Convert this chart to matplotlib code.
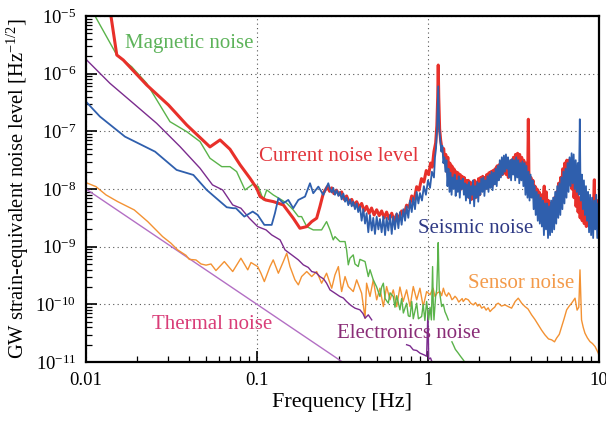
import numpy as np
import matplotlib
matplotlib.use('Agg')
import matplotlib.pyplot as plt
from matplotlib.ticker import FuncFormatter, LogLocator, NullFormatter

plt.rcParams['font.family'] = ['Liberation Serif', 'DejaVu Serif']
plt.rcParams['mathtext.fontset'] = 'custom'
plt.rcParams['mathtext.rm'] = 'Liberation Serif'
plt.rcParams['mathtext.it'] = 'Liberation Serif:italic'

# all curves: log10(frequency [Hz]) and log10(strain noise [Hz^-1/2])
red_lf = [-1.87, -1.854, -1.820, -1.782, -1.645, -1.518, -1.411, -1.275, -1.216, -1.158, -1.099, -1.041,
          -1.002, -0.982, -0.950, -0.905, -0.846, -0.788, -0.749, -0.709, -0.680, -0.651, -0.632, -0.612,
          -0.589, -0.575, -0.563, -0.550, -0.535, -0.520, -0.505, -0.490, -0.476, -0.460, -0.446, -0.432,
          -0.417, -0.402, -0.388, -0.373, -0.359, -0.344, -0.330, -0.315, -0.300, -0.285, -0.271, -0.256,
          -0.242, -0.227, -0.212, -0.198, -0.183, -0.168, -0.154, -0.140, -0.125, -0.110, -0.095, -0.080,
          -0.066, -0.052, -0.038, -0.024, -0.010, 0.004, 0.015, 0.025, 0.035, 0.045, 0.052, 0.057, 0.060,
          0.063, 0.068, 0.074, 0.080, 0.086, 0.092, 0.098, 0.104, 0.110, 0.116, 0.122, 0.128, 0.134,
          0.140, 0.146, 0.152, 0.158, 0.164, 0.170, 0.176, 0.182, 0.188, 0.194, 0.200, 0.206, 0.212,
          0.218, 0.224, 0.230, 0.236, 0.242, 0.248, 0.254, 0.260, 0.266, 0.272, 0.278, 0.284, 0.290,
          0.296, 0.302, 0.308, 0.314, 0.320, 0.326, 0.332, 0.338, 0.344, 0.350, 0.356, 0.362, 0.368,
          0.374, 0.380, 0.386, 0.392, 0.398, 0.404, 0.410, 0.416, 0.422, 0.428, 0.434, 0.440, 0.446,
          0.452, 0.458, 0.464, 0.470, 0.476, 0.482, 0.488, 0.494, 0.500, 0.506, 0.512, 0.518, 0.524,
          0.530, 0.536, 0.542, 0.548, 0.554, 0.560, 0.566, 0.572, 0.578, 0.584, 0.587, 0.590, 0.596,
          0.602, 0.608, 0.614, 0.620, 0.626, 0.632, 0.638, 0.644, 0.650, 0.656, 0.662, 0.668, 0.674,
          0.680, 0.686, 0.692, 0.698, 0.704, 0.710, 0.716, 0.722, 0.728, 0.734, 0.740, 0.746, 0.752,
          0.758, 0.764, 0.770, 0.776, 0.782, 0.788, 0.794, 0.800, 0.806, 0.812, 0.818, 0.824, 0.830,
          0.836, 0.842, 0.848, 0.854, 0.860, 0.866, 0.872, 0.878, 0.884, 0.890, 0.896, 0.902, 0.908,
          0.914, 0.920, 0.926, 0.932, 0.938, 0.944, 0.950, 0.956, 0.962, 0.968, 0.973, 0.976, 0.982,
          0.988, 0.994, 1.000, 1.006]
red_lv = [-4.70, -5.00, -5.676, -5.763, -6.196, -6.542, -6.889, -7.270, -7.149, -7.310, -7.58, -7.813,
          -7.986, -8.13, -8.19, -8.218, -8.276, -8.506, -8.680, -8.652, -8.565, -8.506, -8.305, -8.073,
          -7.96, -8.04, -7.98, -8.08, -8.02, -8.10, -8.05, -8.18, -8.12, -8.24, -8.18, -8.28,
          -8.22, -8.32, -8.25, -8.38, -8.30, -8.42, -8.33, -8.45, -8.36, -8.46, -8.38, -8.50,
          -8.40, -8.52, -8.42, -8.55, -8.44, -8.52, -8.38, -8.45, -8.28, -8.32, -8.12, -8.18,
          -7.96, -8.02, -7.82, -7.88, -7.68, -7.75, -7.55, -7.62, -7.35, -7.20, -6.90, -6.40, -5.85,
          -6.40, -6.95, -7.15, -7.27, -7.35, -7.30, -7.55, -7.40, -7.70, -7.45, -7.80, -7.55, -7.85,
          -7.60, -7.90, -7.65, -7.95, -7.70, -7.90, -7.72, -7.98, -7.75, -8.00, -7.78, -7.95, -7.80,
          -8.05, -7.85, -8.10, -7.85, -8.15, -7.88, -8.18, -7.90, -8.10, -7.85, -8.15, -7.88, -8.05,
          -7.82, -8.10, -7.80, -8.00, -7.78, -8.02, -7.80, -7.95, -7.75, -7.98, -7.72, -7.92, -7.70,
          -7.95, -7.68, -7.88, -7.65, -7.85, -7.60, -7.80, -7.58, -7.78, -7.55, -7.75, -7.52, -7.72,
          -7.50, -7.75, -7.55, -7.80, -7.55, -7.75, -7.50, -7.70, -7.45, -7.65, -7.40, -7.60, -7.38,
          -7.55, -7.40, -7.62, -7.45, -7.70, -7.50, -7.75, -7.55, -7.85, -7.60, -6.79, -7.70, -7.95,
          -7.80, -8.05, -7.85, -8.15, -7.95, -8.25, -8.00, -8.30, -8.05, -8.35, -8.10, -8.40, -8.15,
          -7.95, -8.40, -8.05, -8.45, -8.20, -8.50, -8.25, -8.48, -8.22, -8.45, -8.15, -8.40, -8.05,
          -8.25, -7.90, -8.15, -7.80, -8.00, -7.65, -7.90, -7.55, -7.80, -7.50, -7.70, -7.50, -7.85,
          -7.65, -8.00, -7.80, -8.15, -7.95, -8.30, -8.05, -8.40, -8.15, -8.50, -8.20, -8.55, -8.25,
          -8.60, -8.30, -8.65, -8.35, -8.60, -8.30, -8.65, -8.35, -8.60, -8.30, -7.84, -8.55, -8.25,
          -8.50, -8.20, -8.45, -8.30]

blue_lf = [-2.0, -1.918, -1.772, -1.596, -1.470, -1.372, -1.294, -1.177, -1.139, -1.123, -1.074, -1.025,
           -0.996, -0.957, -0.914, -0.895, -0.875, -0.846, -0.817, -0.788, -0.758, -0.719, -0.690, -0.671,
           -0.641, -0.612, -0.583, -0.573, -0.563, -0.554, -0.544, -0.534, -0.524, -0.515, -0.505, -0.495,
           -0.485, -0.476, -0.466, -0.456, -0.446, -0.437, -0.427, -0.417, -0.408, -0.398, -0.388, -0.378,
           -0.368, -0.359, -0.349, -0.339, -0.329, -0.320, -0.310, -0.300, -0.290, -0.281, -0.271, -0.261,
           -0.251, -0.242, -0.232, -0.222, -0.212, -0.203, -0.193, -0.183, -0.173, -0.164, -0.154, -0.144,
           -0.134, -0.125, -0.115, -0.105, -0.095, -0.086, -0.076, -0.066, -0.056, -0.047, -0.035, -0.024,
           -0.012, 0.000, 0.012, 0.023, 0.035, 0.041, 0.047, 0.053, 0.060, 0.066, 0.072, 0.078, 0.084,
           0.090, 0.096, 0.102, 0.108, 0.114, 0.120, 0.126, 0.132, 0.138, 0.144, 0.150, 0.156, 0.162,
           0.168, 0.174, 0.180, 0.186, 0.192, 0.198, 0.204, 0.210, 0.216, 0.222, 0.228, 0.234, 0.240,
           0.246, 0.252, 0.258, 0.264, 0.270, 0.276, 0.282, 0.288, 0.294, 0.300, 0.306, 0.312, 0.318,
           0.324, 0.330, 0.336, 0.342, 0.348, 0.354, 0.360, 0.366, 0.372, 0.378, 0.384, 0.390, 0.396,
           0.402, 0.408, 0.414, 0.420, 0.426, 0.432, 0.438, 0.444, 0.450, 0.456, 0.462, 0.468, 0.474,
           0.480, 0.486, 0.492, 0.498, 0.504, 0.510, 0.516, 0.522, 0.528, 0.534, 0.540, 0.546, 0.552,
           0.558, 0.564, 0.570, 0.576, 0.582, 0.588, 0.594, 0.600, 0.606, 0.612, 0.618, 0.624, 0.630,
           0.636, 0.642, 0.648, 0.654, 0.660, 0.666, 0.672, 0.678, 0.684, 0.690, 0.696, 0.702, 0.708,
           0.714, 0.720, 0.726, 0.732, 0.738, 0.744, 0.750, 0.756, 0.762, 0.768, 0.774, 0.780, 0.786,
           0.792, 0.798, 0.804, 0.810, 0.816, 0.822, 0.828, 0.834, 0.840, 0.846, 0.852, 0.858, 0.864,
           0.870, 0.876, 0.882, 0.888, 0.891, 0.894, 0.900, 0.906, 0.912, 0.918, 0.924, 0.930, 0.936,
           0.942, 0.948, 0.954, 0.960, 0.966, 0.972, 0.978, 0.984, 0.990, 0.996, 1.002]
blue_lv = [-6.485, -6.745, -7.092, -7.352, -7.669, -7.756, -8.016, -8.316, -8.333, -8.333, -8.478, -8.391,
           -8.449, -8.622, -8.622, -8.420, -8.160, -8.246, -8.189, -8.333, -8.189, -8.131, -7.900, -8.073,
           -7.958, -8.102, -7.900, -8.00, -8.06, -7.98, -8.10, -8.02, -8.12, -8.05, -8.18, -8.08,
           -8.22, -8.15, -8.28, -8.18, -8.30, -8.22, -8.35, -8.25, -8.40, -8.30, -8.55, -8.35,
           -8.60, -8.42, -8.75, -8.45, -8.72, -8.50, -8.78, -8.48, -8.70, -8.52, -8.75, -8.48,
           -8.80, -8.50, -8.72, -8.45, -8.78, -8.48, -8.70, -8.42, -8.68, -8.40, -8.62, -8.35,
           -8.55, -8.30, -8.50, -8.20, -8.40, -8.15, -8.35, -8.05, -8.25, -8.07, -8.20, -7.95,
           -8.10, -7.85, -7.98, -7.70, -7.80, -7.45, -7.30, -6.95, -6.22, -6.95, -7.15, -7.35, -7.25,
           -7.55, -7.45, -7.70, -7.50, -7.95, -7.65, -8.05, -7.72, -8.10, -7.80, -8.00, -7.75, -8.12,
           -7.85, -8.05, -7.78, -8.15, -7.85, -8.00, -7.82, -8.10, -7.90, -8.20, -7.92, -8.15, -7.88,
           -8.25, -7.95, -8.10, -7.85, -8.30, -7.95, -8.15, -7.88, -8.22, -7.90, -8.10, -7.82, -8.05,
           -7.80, -8.12, -7.85, -8.00, -7.78, -8.05, -7.75, -7.98, -7.70, -8.02, -7.72, -7.92, -7.65,
           -7.95, -7.60, -7.85, -7.50, -7.80, -7.45, -7.75, -7.42, -7.70, -7.40, -7.65, -7.45, -7.80,
           -7.50, -7.85, -7.48, -7.75, -7.50, -7.85, -7.45, -7.80, -7.50, -7.90, -7.55, -7.85, -7.52,
           -7.95, -7.55, -8.10, -7.60, -8.15, -7.70, -8.20, -7.75, -8.15, -7.85, -8.35, -7.95, -8.45,
           -8.05, -8.55, -8.10, -8.60, -8.15, -8.65, -8.20, -8.80, -8.25, -8.70, -8.25, -8.85, -8.30,
           -8.80, -8.20, -8.75, -8.15, -8.70, -8.05, -8.60, -7.95, -8.50, -7.90, -8.45, -7.80, -8.35,
           -7.70, -8.25, -7.65, -8.15, -7.55, -8.05, -7.45, -7.95, -7.38, -7.90, -7.40, -8.00, -7.50,
           -8.05, -7.55, -8.10, -6.79, -7.70, -8.20, -7.75, -8.35, -7.85, -8.45, -7.95, -8.55, -8.05,
           -8.75, -8.10, -8.80, -8.15, -8.85, -8.20, -8.70, -8.10, -8.85, -8.25, -8.80]

green_lf = [-1.96, -1.947, -1.820, -1.733, -1.645, -1.509, -1.411, -1.333, -1.275, -1.206, -1.158, -1.119,
            -1.070, -1.022, -0.992, -0.963, -0.943, -0.905, -0.856, -0.826, -0.788, -0.758, -0.739, -0.709,
            -0.671, -0.622, -0.593, -0.573, -0.554, -0.544, -0.515, -0.485, -0.476, -0.466, -0.456, -0.437,
            -0.427, -0.408, -0.398, -0.368, -0.349, -0.339, -0.320, -0.300, -0.281, -0.271, -0.261, -0.251,
            -0.232, -0.222, -0.203, -0.193, -0.183, -0.164, -0.154, -0.144, -0.125, -0.115, -0.105, -0.095,
            -0.086, -0.066, -0.056, -0.037, -0.028, -0.018, -0.008, 0.004, 0.012, 0.020, 0.027, 0.031,
            0.035, 0.045, 0.051, 0.056, 0.060, 0.063, 0.066, 0.080, 0.090, 0.099, 0.110, 0.119, 0.130,
            0.140, 0.148, 0.160, 0.177, 0.190, 0.206, 0.226]
green_lv = [-4.80, -5.00, -5.676, -5.879, -6.167, -6.832, -7.005, -7.178, -7.466, -7.612, -7.612, -7.698,
            -8.016, -7.912, -7.958, -8.189, -8.016, -8.102, -8.189, -8.246, -8.362, -8.478, -8.478, -8.652,
            -8.709, -8.709, -8.565, -8.709, -8.882, -8.825, -8.911, -8.911, -9.056, -9.315, -9.20, -9.142,
            -9.30, -9.344, -9.22, -9.258, -9.518, -9.40, -9.575, -9.70, -9.864, -9.70, -9.633, -9.90,
            -9.980, -9.80, -9.864, -10.05, -9.85, -10.095, -9.90, -10.15, -9.980, -10.20, -10.211, -9.95,
            -10.25, -9.980, -10.25, -10.211, -10.00, -10.28, -9.95, -10.27, -10.05, -10.27, -9.345, -10.00,
            -10.27, -9.85, -9.749, -9.30, -8.929, -9.40, -9.749, -10.038, -10.00, -10.125, -10.20, -10.27, np.nan,
            -10.65, -10.70, -10.78, -10.846, -10.90, -10.962, -11.05]

purple_lf = [-2.0, -1.860, -1.723, -1.587, -1.450, -1.333, -1.260, -1.201, -1.142, -1.094, -1.045, -0.996,
             -0.947, -0.914, -0.865, -0.836, -0.797, -0.758, -0.729, -0.700, -0.680, -0.655, -0.632, -0.610,
             -0.593, -0.573, -0.544, -0.515, -0.495, -0.476, -0.450, -0.427, -0.398, -0.380, -0.368, -0.349,
             -0.329, -0.320, -0.125, -0.105, -0.086, -0.066, -0.047, -0.020, -0.008, 0.000, 0.004, 0.015, 0.030]
purple_lv = [-5.751, -6.167, -6.514, -6.860, -7.265, -7.640, -7.929, -8.016, -8.276, -8.333, -8.506, -8.652,
             -8.709, -8.796, -8.882, -9.056, -9.142, -9.229, -9.315, -9.36, -9.431, -9.45, -9.518, -9.56,
             -9.633, -9.749, -9.806, -9.864, -9.89, -9.951, -10.02, -10.066, -10.095, -10.16, -10.240, -10.182,
             -10.269, np.nan, -10.70, -10.72, -10.789, -10.80, -10.846, -10.88, -10.90, -10.10, -10.95, -10.93, -11.05]

orange_lf = [-2.0, -1.942, -1.883, -1.815, -1.718, -1.639, -1.552, -1.503, -1.464, -1.415, -1.396, -1.357,
             -1.327, -1.298, -1.269, -1.240, -1.191, -1.142, -1.094, -1.054, -1.035, -0.996, -0.977, -0.957,
             -0.924, -0.905, -0.875, -0.846, -0.826, -0.807, -0.778, -0.758, -0.739, -0.709, -0.680, -0.651,
             -0.622, -0.593, -0.563, -0.544, -0.524, -0.505, -0.485, -0.466, -0.437, -0.417, -0.388, -0.368,
             -0.359, -0.339, -0.320, -0.300, -0.281, -0.261, -0.242, -0.222, -0.203, -0.183, -0.164, -0.145,
             -0.125, -0.105, -0.086, -0.066, -0.047, -0.028, -0.008, 0.012, 0.030, 0.041, 0.055, 0.070,
             0.080, 0.090, 0.100, 0.110, 0.120, 0.129, 0.140, 0.148, 0.158, 0.168, 0.180, 0.190, 0.200,
             0.206, 0.220, 0.236, 0.250, 0.265, 0.278, 0.290, 0.302, 0.314, 0.328, 0.340, 0.352, 0.363,
             0.377, 0.390, 0.400, 0.411, 0.430, 0.450, 0.470, 0.489, 0.510, 0.528, 0.548, 0.567, 0.585,
             0.606, 0.625, 0.645, 0.665, 0.684, 0.705, 0.723, 0.740, 0.752, 0.768, 0.782, 0.796, 0.811,
             0.826, 0.840, 0.860, 0.872, 0.882, 0.889, 0.898, 0.908, 0.918, 0.932, 0.947, 0.962, 0.977,
             0.996, 1.005]
orange_lv = [-7.889, -7.958, -8.102, -8.218, -8.362, -8.565, -8.825, -8.940, -9.056, -9.15, -9.22, -9.23,
             -9.30, -9.32, -9.30, -9.414, -9.258, -9.431, -9.200, -9.402, -9.275, -9.345, -9.460, -9.605,
             -9.345, -9.229, -9.460, -9.258, -9.113, -9.345, -9.575, -9.662, -9.518, -9.431, -9.518, -9.431,
             -9.633, -9.460, -9.720, -9.489, -9.345, -9.778, -9.518, -9.691, -9.778, -9.575, -9.806, -10.240,
             -9.633, -9.864, -9.575, -9.922, -9.72, -10.038, -9.691, -9.92, -9.749, -10.04, -9.70, -9.951,
             -9.749, -10.038, -9.691, -9.922, -9.720, -10.038, -9.778, -9.835, -9.72, -9.864, -9.80, -9.778,
             -9.85, -9.72, -9.82, -9.86, -9.80, -9.835, -9.92, -9.90, -9.86, -9.893, -9.96, -9.93, -9.90,
             -9.951, -9.90, -9.922, -9.98, -10.009, -9.97, -10.03, -10.00, -10.066, -10.04, -10.10, -10.06, -10.125,
             -10.08, -10.05, -10.00, -9.980, -10.03, -10.009, -10.04, -10.066, -9.95, -9.893, -9.98, -10.038, -10.08,
             -10.182, -10.26, -10.355, -10.45, -10.529, -10.60, -10.615, -10.65, -10.586, -10.52, -10.385, -10.25, -10.095,
             -10.03, -9.980, -9.893, -10.10, -10.05, -9.402, -10.269, -10.40, -10.500, -10.58, -10.645, -10.68, -10.731,
             -10.846, -10.95]

thermal_f = [0.01, 0.1, 1.0]
thermal_h = [1e-8, 1e-10, 1e-12]

labels = {
    'Magnetic noise': (-1.772, -5.555, '#5db35a'),
    'Current noise level': (-0.988, -7.513, '#e2363c'),
    'Seismic noise': (-0.058, -8.766, '#2f3a85'),
    'Sensor noise': (0.234, -9.719, '#f39a4a'),
    'Thermal noise': (-1.614, -10.425, '#d93d78'),
    'Electronics noise': (-0.532, -10.586, '#8a2d77'),
}


def from_log(a):
    return 10 ** np.array(a, dtype=float)


fig = plt.figure(figsize=(6.06, 4.26), dpi=100)
ax = fig.add_axes([0.1419, 0.1502, 0.8465, 0.8122])

ax.plot(thermal_f, thermal_h, color='#b36fc4', lw=1.0)
ax.plot(from_log(orange_lf), from_log(orange_lv), color='#f39233', lw=1.0)
ax.plot(from_log(purple_lf), from_log(purple_lv), color='#7b2c8e', lw=1.0)
ax.plot(from_log(green_lf), from_log(green_lv), color='#5ab34a', lw=1.0)
ax.plot(from_log(red_lf), from_log(red_lv), color='#e8302a', lw=2.2)
ax.plot(from_log(blue_lf), from_log(blue_lv), color='#2f5fad', lw=1.3)

for txt, (lf, lv, c) in labels.items():
    ax.text(10 ** lf, 10 ** lv, txt, color=c, fontsize=15, ha='left', va='baseline')

ax.set_xscale('log')
ax.set_yscale('log')
ax.set_xlim(0.01, 10)
ax.set_ylim(1e-11, 1e-5)

ax.xaxis.set_major_locator(LogLocator(base=10, numticks=10))
ax.yaxis.set_major_locator(LogLocator(base=10, numticks=10))
ax.xaxis.set_minor_locator(LogLocator(base=10, subs=np.arange(2, 10), numticks=20))
ax.yaxis.set_minor_locator(LogLocator(base=10, subs=np.arange(2, 10), numticks=20))
ax.xaxis.set_minor_formatter(NullFormatter())
ax.yaxis.set_minor_formatter(NullFormatter())
ax.xaxis.set_major_formatter(FuncFormatter(lambda v, p: '%g' % v))
ax.yaxis.set_major_formatter(FuncFormatter(
    lambda v, p: r'$\mathrm{10^{%d}}$' % int(round(np.log10(v)))))

ax.tick_params(which='both', direction='in', top=False, right=False, labelsize=13.5)
ax.tick_params(which='major', length=8, width=1.2, pad=7)
ax.tick_params(which='minor', length=4, width=0.9)
ax.grid(True, which='major', color='#555555', linestyle=(0, (1, 3)), linewidth=0.8)
for s in ax.spines.values():
    s.set_linewidth(1.6)

ax.set_xlabel('Frequency [Hz]', fontsize=16, labelpad=3)
ax.set_ylabel(r'GW strain-equivalent noise level [Hz$^{\mathrm{-1/2}}$]', fontsize=14.8, labelpad=3)

fig.savefig('out.png', dpi=100)
